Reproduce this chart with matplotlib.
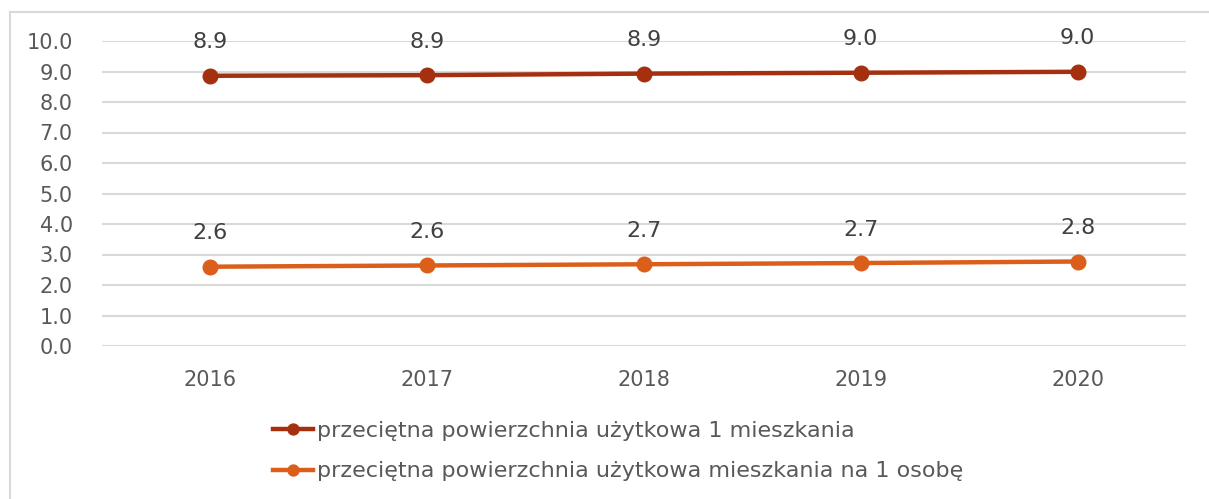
import matplotlib.pyplot as plt
from matplotlib.lines import Line2D

years = ["2016", "2017", "2018", "2019", "2020"]
per_flat = [8.86, 8.88, 8.93, 8.96, 8.99]
per_person = [2.60, 2.64, 2.68, 2.72, 2.77]
per_flat_labels = ["8.9", "8.9", "8.9", "9.0", "9.0"]
per_person_labels = ["2.6", "2.6", "2.7", "2.7", "2.8"]
series_names = [
    "przeciętna powierzchnia użytkowa 1 mieszkania",
    "przeciętna powierzchnia użytkowa mieszkania na 1 osobę",
]

DARK = "#A5300F"
ORANGE = "#DB5E1B"
TEXT = "#404040"
TICK = "#595959"

plt.rcParams["font.family"] = ["DejaVu Sans"]

fig = plt.figure(figsize=(12.09, 4.99), dpi=100)
ax = fig.add_axes([102 / 1209, 1 - 346 / 499, (1186 - 102) / 1209, (346 - 41) / 499])

x = list(range(len(years)))
l1, = ax.plot(x, per_flat, color=DARK, lw=3.2, marker="o", ms=10.5, label=series_names[0])
l2, = ax.plot(x, per_person, color=ORANGE, lw=3.2, marker="o", ms=10.5, label=series_names[1])

for xi, yi, t in zip(x, per_flat, per_flat_labels):
    ax.annotate(t, (xi, yi), xytext=(0, 24), textcoords="offset points",
                ha="center", va="center", fontsize=16, color=TEXT)
for xi, yi, t in zip(x, per_person, per_person_labels):
    ax.annotate(t, (xi, yi), xytext=(0, 24), textcoords="offset points",
                ha="center", va="center", fontsize=16, color=TEXT)

ax.set_xlim(-0.5, len(years) - 0.5)
ax.set_ylim(0, 10)
ax.set_yticks(range(0, 11))
ax.set_yticklabels([f"{v:.1f}" for v in range(0, 11)])
ax.set_xticks(x)
ax.set_xticklabels(years)
ax.tick_params(axis="both", length=0, labelsize=15, labelcolor=TICK)
ax.tick_params(axis="x", pad=17)
ax.tick_params(axis="y", pad=21)
ax.grid(axis="y", color="#D9D9D9", lw=1.5)
ax.set_axisbelow(True)
for s in ax.spines.values():
    s.set_visible(False)

fig.legend(handles=[l1, l2], loc="upper left", bbox_to_anchor=(253 / 1209, 1 - 401 / 499),
           frameon=False, fontsize=16, handlelength=1.8, handletextpad=0.2,
           labelspacing=0.92, markerscale=0.75, labelcolor=TICK)

# outer frame (left and top edges only visible in the reference)
fig.add_artist(Line2D([10 / 1209, 10 / 1209], [0, 1 - 12 / 499], transform=fig.transFigure,
                      color="#D9D9D9", lw=1.5))
fig.add_artist(Line2D([10 / 1209, 1], [1 - 12 / 499, 1 - 12 / 499], transform=fig.transFigure,
                      color="#D9D9D9", lw=1.5))

fig.savefig("out.png", dpi=100)
